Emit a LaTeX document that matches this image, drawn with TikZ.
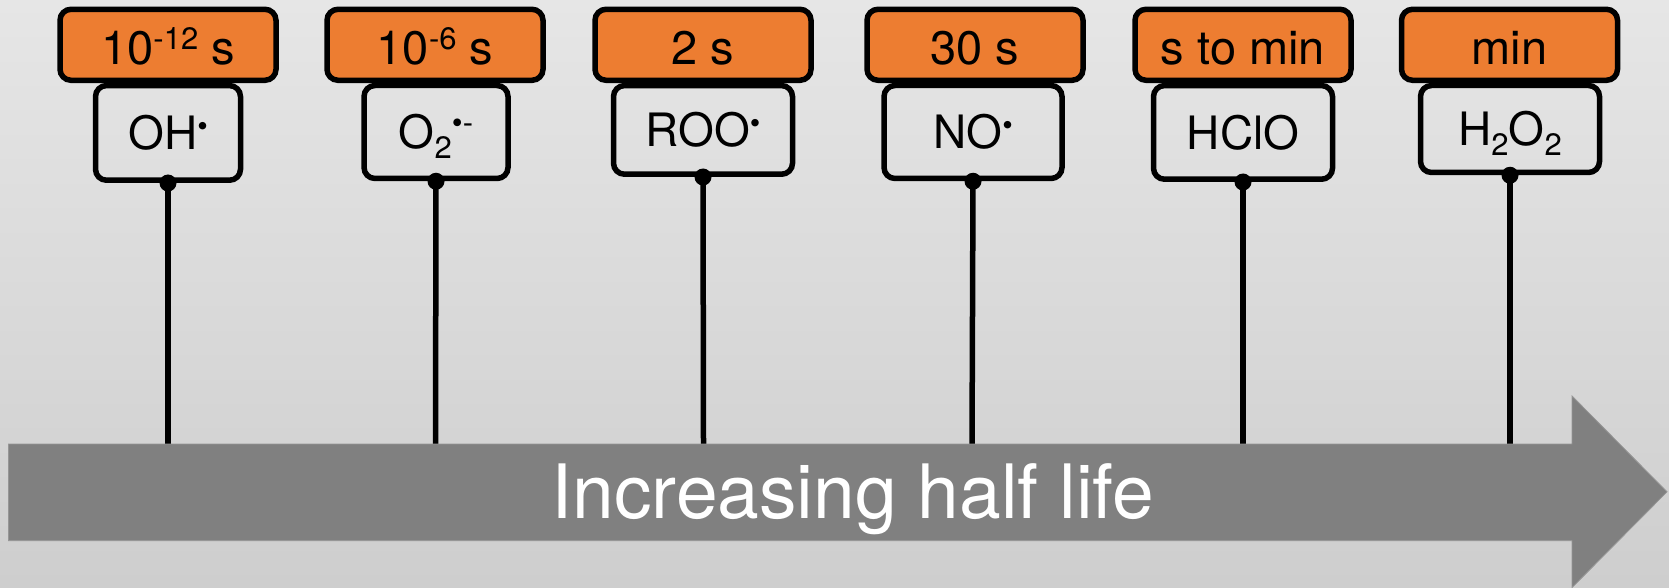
\documentclass[tikz,border=0pt]{standalone}
\usepackage{fontspec}
\setmainfont{TeX Gyre Heros}
\definecolor{bgtop}{RGB}{230,230,230}
\definecolor{bgbot}{RGB}{206,206,206}
\definecolor{boxorange}{RGB}{237,125,49}
\definecolor{arrowgray}{RGB}{128,128,128}
\definecolor{arrowedge}{RGB}{150,150,150}
\newcommand{\mysub}[1]{\raisebox{-10pt}{\fontsize{31}{31}\selectfont #1}}
\newcommand{\mysup}[1]{\raisebox{15pt}{\fontsize{31}{31}\selectfont #1}}
\newcommand{\myrad}{\raisebox{13pt}{\fontsize{30}{30}\selectfont •}}
\begin{document}
\begin{tikzpicture}[x=1pt,y=1pt,
  timebox/.style={draw=black,line width=5.5pt,fill=boxorange,rounded corners=11pt,
    minimum width=216pt,minimum height=71pt,inner sep=0pt,
    font=\fontsize{47}{50}\selectfont,text height=40pt,text depth=0pt},
  specbox/.style={draw=black,line width=5.5pt,rounded corners=11pt,
    inner sep=0pt,
    font=\fontsize{46}{50}\selectfont,text height=34pt,text depth=0pt},
  stem/.style={draw=black,line width=5.5pt},
  joint/.style={fill=black,circle,inner sep=0pt,minimum size=17pt}]
\shade[top color=bgtop,bottom color=bgbot] (0,0) rectangle (1669,587);
\useasboundingbox (0,0) rectangle (1669,587);
% species boxes
\node[specbox,minimum width=145pt,minimum height=94.7pt] (s1) at (168,454.1) {OH\myrad};
\node[specbox,minimum width=144pt,minimum height=93pt] (s2) at (436,455) {O\mysub{2}\mysup{•-}};
\node[specbox,minimum width=179pt,minimum height=88.7pt] (s3) at (703,457.1) {ROO\myrad};
\node[specbox,minimum width=178pt,minimum height=93pt] (s4) at (973,455) {NO\myrad};
\node[specbox,minimum width=179pt,minimum height=93.7pt] (s5) at (1243,454.6) {HClO};
\node[specbox,minimum width=179pt,minimum height=87pt] (s6) at (1510,458) {H\mysub{2}O\mysub{2}};
% half-life boxes
\node[timebox] (t1) at (168,542.2) {10\mysup{-12} s};
\node[timebox] (t2) at (435,542.2) {10\mysup{-6} s};
\node[timebox] (t3) at (703,542.2) {2 s};
\node[timebox] (t4) at (975,542.2) {30 s};
\node[timebox] (t5) at (1243,542.2) {s to min};
\node[timebox] (t6) at (1509.5,542.2) {min};
% arrow anchors
\coordinate (a1) at (168,143);
\coordinate (a2) at (435.5,143);
\coordinate (a3) at (703.5,143);
\coordinate (a4) at (972,143);
\coordinate (a5) at (1243,143);
\coordinate (a6) at (1510,143);
\foreach \i in {1,...,6}{
  \draw[stem] (s\i.south) -- (a\i);
  \node[joint] at (s\i.south) {};
}
% big arrow
\coordinate (p1) at (8.5,143);
\coordinate (p2) at (1572,143);
\coordinate (p3) at (1572,191);
\coordinate (p4) at (1667,95.2);
\coordinate (p5) at (1572,-0.6);
\coordinate (p6) at (1572,46.3);
\coordinate (p7) at (8.5,46.3);
\fill[arrowgray,draw=arrowedge,line width=0.8pt] (p1) -- (p2) -- (p3) -- (p4) -- (p5) -- (p6) -- (p7) -- cycle;
\node[text=white,font=\fontsize{75}{80}\selectfont,text height=55pt,text depth=0pt,inner sep=0pt] (lab) at (853,96.2) {Increasing half life};
\end{tikzpicture}
\end{document}
